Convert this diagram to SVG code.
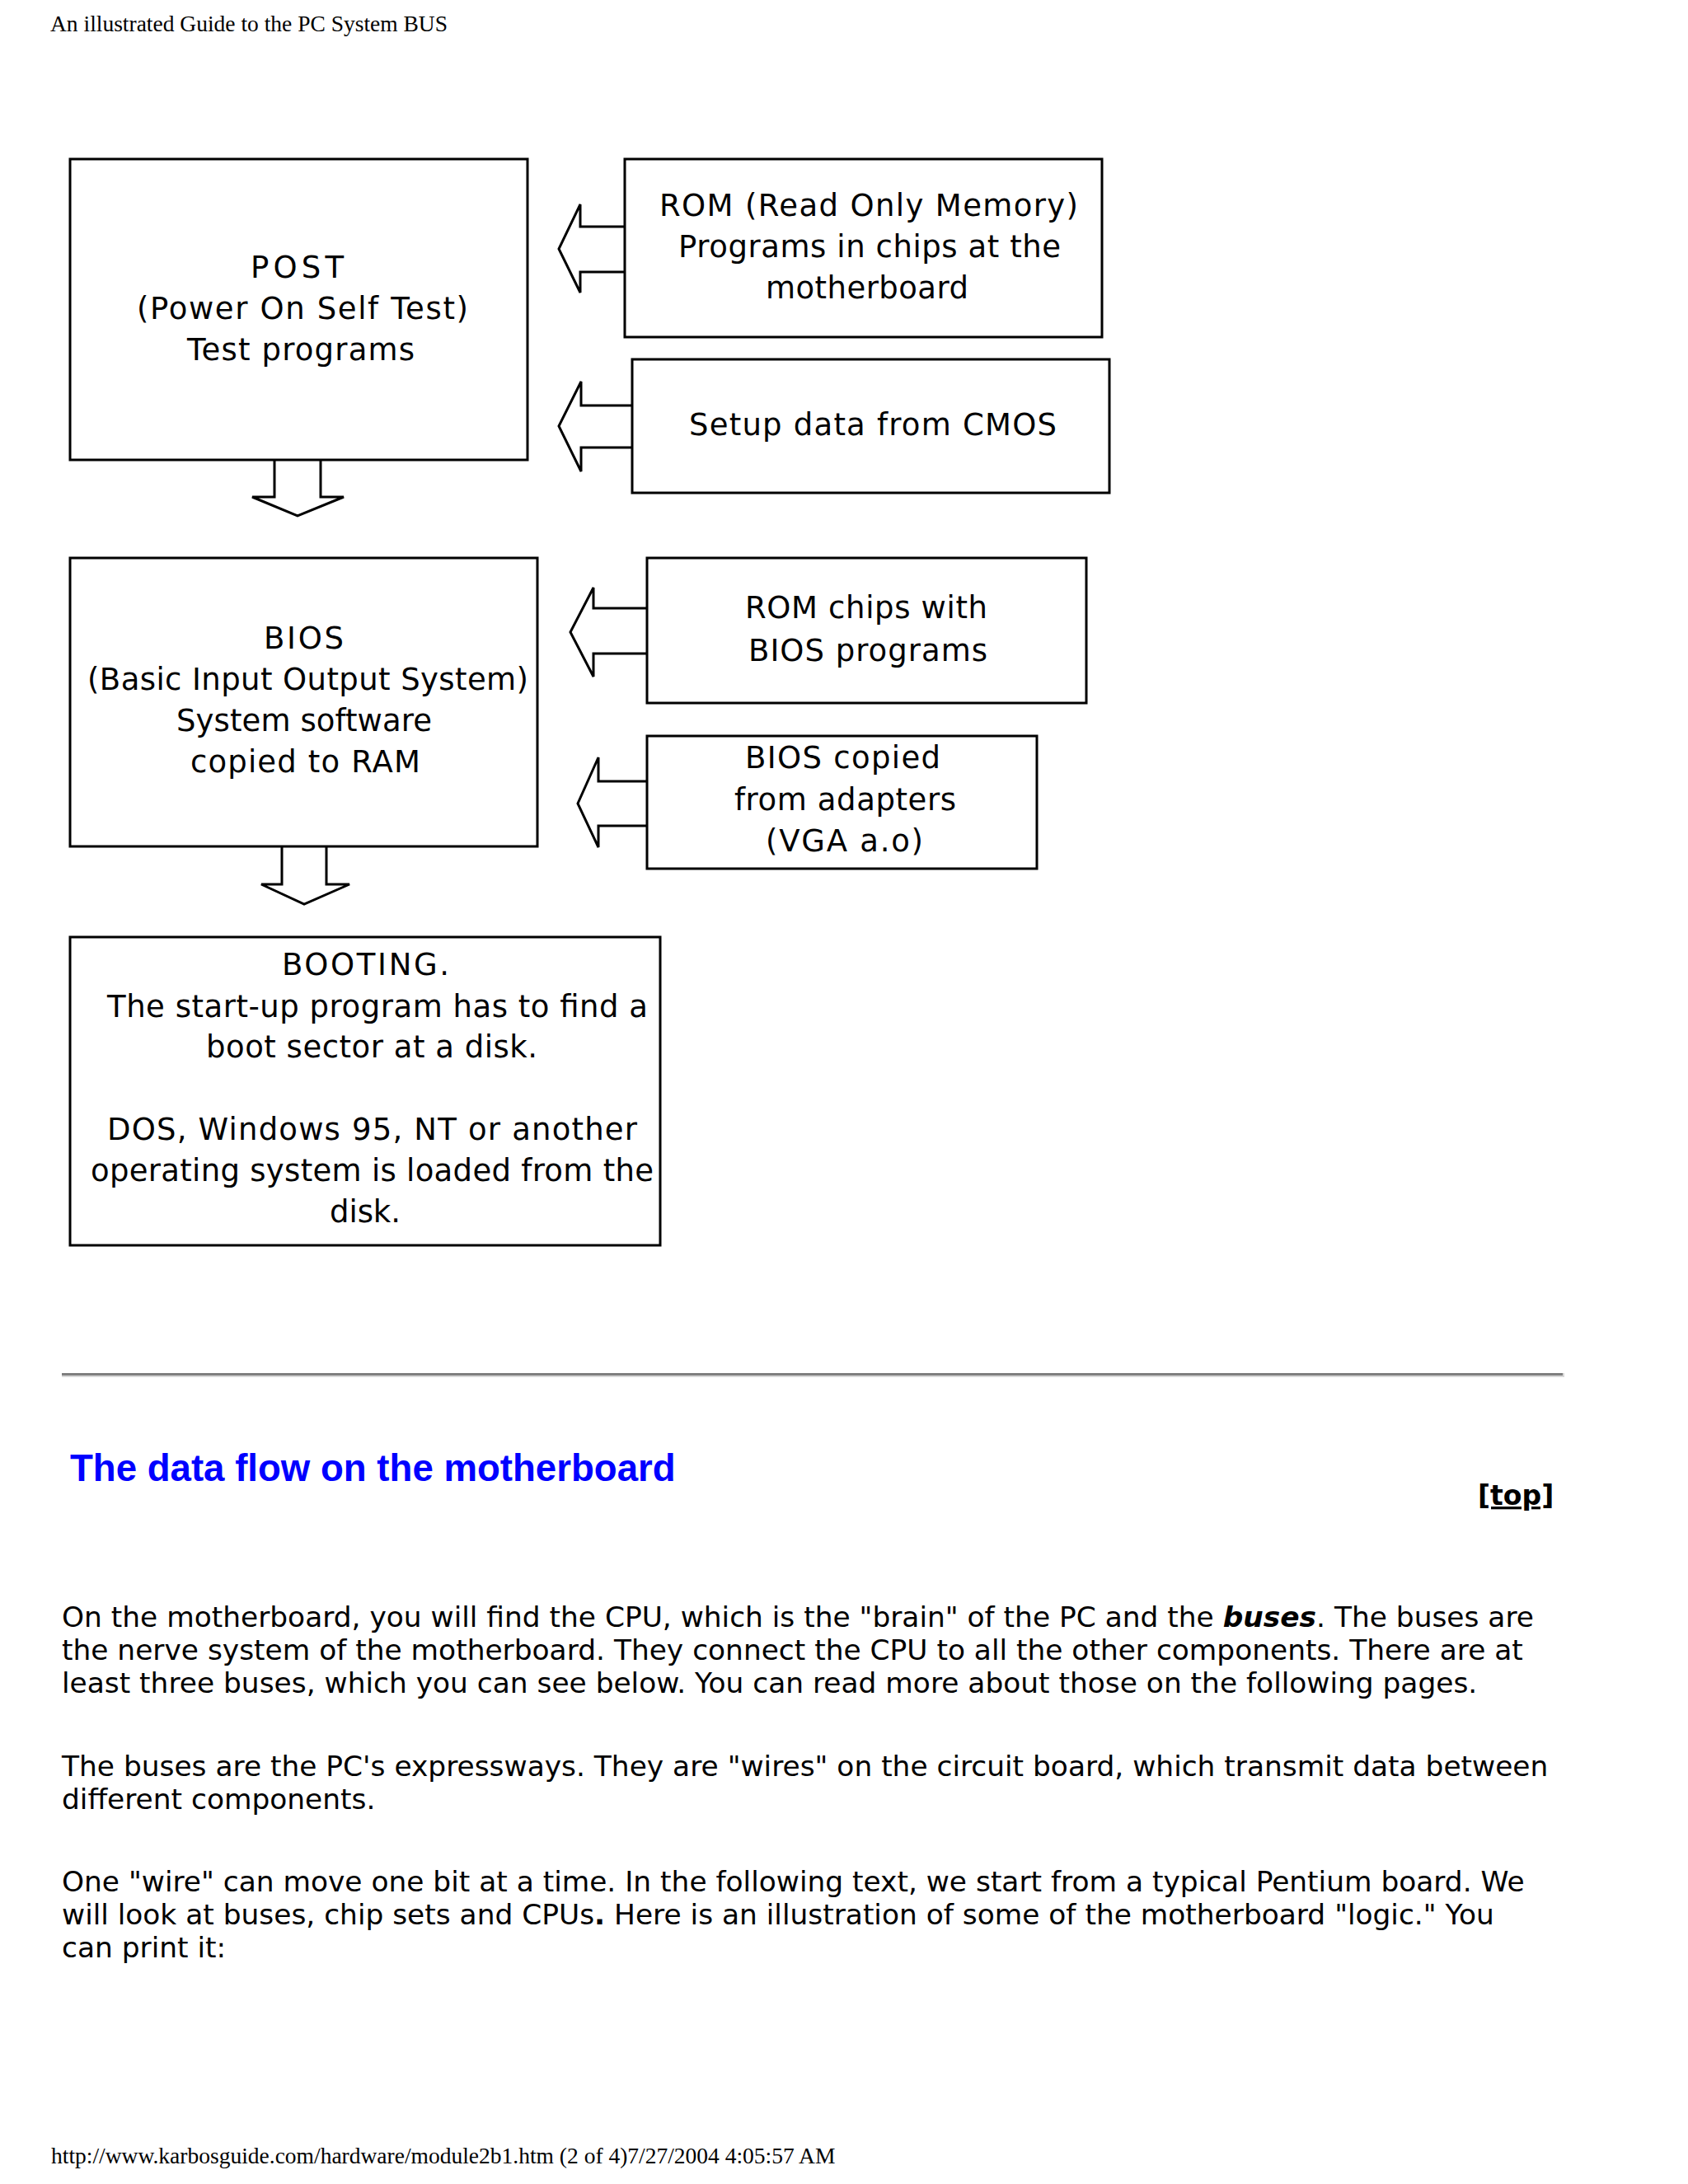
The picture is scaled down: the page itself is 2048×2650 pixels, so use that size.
<svg xmlns="http://www.w3.org/2000/svg" width="2048" height="2650" viewBox="0 0 2048 2650">
<style>
.box{fill:none;stroke:#000;stroke-width:3}
.arr{fill:none;stroke:#000;stroke-width:3;stroke-linejoin:miter}
.dt{font-family:"DejaVu Sans",Verdana,sans-serif;font-size:37px;fill:#000}
.serif{font-family:"Liberation Serif","Times New Roman",serif;font-size:27.5px;fill:#000}
.body{font-family:"DejaVu Sans",Verdana,sans-serif;font-size:34.4px;fill:#000}
.h2{font-family:"Liberation Sans",Arial,sans-serif;font-size:45.6px;font-weight:bold;fill:#0000ff}
.top{font-family:"DejaVu Sans",Verdana,sans-serif;font-size:33px;font-weight:bold;fill:#000;text-decoration:underline}
</style>
<rect x="0" y="0" width="2048" height="2650" fill="#fff"/>
<text class="serif" x="61" y="38">An illustrated Guide to the PC System BUS</text>

<g id="connectors">
<polyline class="arr" points="758,275 704,275 704,248 678,302 704,355 704,330 758,330"/>
<polyline class="arr" points="767,492 705,492 705,463 678,517 705,572 705,543 767,543"/>
<polyline class="arr" points="785,738 720,738 720,713 692,767 720,821 720,793 785,793"/>
<polyline class="arr" points="785,948 726,948 726,919 701,975 726,1028 726,1002 785,1002"/>
<polyline class="arr" points="333,558 333,603 306,603 361,626 417,603 389,603 389,558"/>
<polyline class="arr" points="342,1027 342,1073 317,1073 369,1097 424,1073 396,1073 396,1027"/>
</g>

<g id="post">
<rect class="box" x="85" y="193" width="555" height="365"/>
<text class="dt" x="304" y="337" textLength="113">POST</text>
<text class="dt" x="166" y="387" textLength="402">(Power On Self Test)</text>
<text class="dt" x="227" y="437" textLength="276">Test programs</text>
</g>

<g id="rom">
<rect class="box" x="758" y="193" width="579" height="216"/>
<text class="dt" x="800" y="262" textLength="508">ROM (Read Only Memory)</text>
<text class="dt" x="823" y="312" textLength="464">Programs in chips at the</text>
<text class="dt" x="929" y="362" textLength="246">motherboard</text>
</g>

<g id="cmos">
<rect class="box" x="767" y="436" width="579" height="162"/>
<text class="dt" x="836" y="528" textLength="446">Setup data from CMOS</text>
</g>

<g id="bios">
<rect class="box" x="85" y="677" width="567" height="350"/>
<text class="dt" x="320" y="787" textLength="97">BIOS</text>
<text class="dt" x="106" y="837" textLength="535">(Basic Input Output System)</text>
<text class="dt" x="214" y="887" textLength="310">System software</text>
<text class="dt" x="231" y="937" textLength="279">copied to RAM</text>
</g>

<g id="romchips">
<rect class="box" x="785" y="677" width="533" height="176"/>
<text class="dt" x="904" y="750" textLength="294">ROM chips with</text>
<text class="dt" x="908" y="802" textLength="290">BIOS programs</text>
</g>

<g id="bioscopied">
<rect class="box" x="785" y="893" width="473" height="161"/>
<text class="dt" x="904" y="932" textLength="237">BIOS copied</text>
<text class="dt" x="891" y="983" textLength="269">from adapters</text>
<text class="dt" x="929" y="1033" textLength="191">(VGA a.o)</text>
</g>

<g id="booting">
<rect class="box" x="85" y="1137" width="716" height="374"/>
<text class="dt" x="342" y="1183" textLength="203">BOOTING.</text>
<text class="dt" x="130" y="1234" textLength="656">The start-up program has to find a</text>
<text class="dt" x="250" y="1283" textLength="402">boot sector at a disk.</text>
<text class="dt" x="130" y="1383" textLength="643">DOS, Windows 95, NT or another</text>
<text class="dt" x="110" y="1433" textLength="683">operating system is loaded from the</text>
<text class="dt" x="400" y="1483" textLength="86">disk.</text>
</g>

<g id="rule">
<rect x="75" y="1666" width="1823" height="3" fill="#7f7f7f"/>
<rect x="75" y="1669" width="1823" height="2" fill="#d8d8d8"/>
<rect x="1896" y="1666" width="2" height="5" fill="#d8d8d8"/>
</g>

<text class="h2" x="85" y="1797">The data flow on the motherboard</text>
<text class="top" x="1793" y="1826">[top]</text>

<g id="bodytext">
<text class="body" x="75" y="1974">On the motherboard, you will find the CPU, which is the "brain" of the PC and the <tspan font-weight="bold" font-style="italic">buses</tspan>. The buses are</text>
<text class="body" x="75" y="2014">the nerve system of the motherboard. They connect the CPU to all the other components. There are at</text>
<text class="body" x="75" y="2054">least three buses, which you can see below. You can read more about those on the following pages.</text>
<text class="body" x="75" y="2155">The buses are the PC's expressways. They are "wires" on the circuit board, which transmit data between</text>
<text class="body" x="75" y="2195">different components.</text>
<text class="body" x="75" y="2295">One "wire" can move one bit at a time. In the following text, we start from a typical Pentium board. We</text>
<text class="body" x="75" y="2335">will look at buses, chip sets and CPUs<tspan font-weight="bold">.</tspan> Here is an illustration of some of the motherboard "logic." You</text>
<text class="body" x="75" y="2375">can print it:</text>
</g>

<text class="serif" x="62" y="2625">http://www.karbosguide.com/hardware/module2b1.htm (2 of 4)7/27/2004 4:05:57 AM</text>
</svg>
